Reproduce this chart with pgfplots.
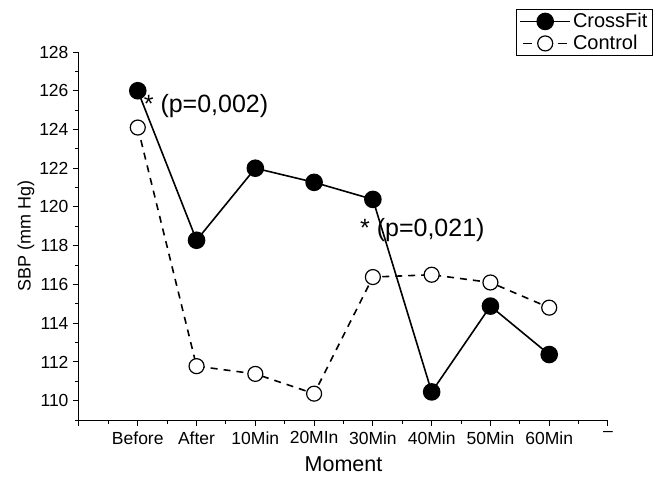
\documentclass[border=0pt]{standalone}
\usepackage{pgfplots}
\pgfplotsset{compat=1.18}
\usepackage{fontspec}
\setmainfont{Liberation Sans}
\begin{document}
\begin{tikzpicture}
\path[use as bounding box] (-79pt,-57pt) rectangle (575pt,420pt);
\begin{axis}[
  at={(0pt,0pt)}, anchor=south west,
  scale only axis, width=529pt, height=368pt,
  xmin=0, xmax=9, ymin=109, ymax=128,
  axis x line*=bottom, axis y line*=left,
  axis line style={line width=1pt, -},
  tick align=outside,
  xtick={0,1,2,3,4,5,6,7,8,9},
  xticklabels={{},Before,After,10Min,20MIn,30Min,40Min,50Min,60Min,--},
  minor xtick={0.5,1.5,2.5,3.5,4.5,5.5,6.5,7.5,8.5},
  ytick={110,112,...,128},
  minor ytick={109,111,...,127},
  major tick length=6pt, minor tick length=4pt,
  tick style={line width=1pt, black},
  /pgf/number format/assume math mode=true,
  ticklabel style={font=\fontsize{17.5}{20}\selectfont},
  yticklabel style={xshift=-1pt},
  xticklabel style={yshift=-2pt},
  xlabel={Moment}, ylabel={SBP (mm Hg)},
  xlabel style={font=\fontsize{21.5}{24}\selectfont, yshift=-5pt},
  ylabel style={font=\fontsize{18}{20}\selectfont, yshift=-2pt},
  legend style={at={(rel axis cs:1.085,1.117)}, anchor=north east, draw=black, line width=1pt,
    font=\fontsize{20}{22}\selectfont, inner xsep=3pt, inner ysep=2pt, row sep=2pt,
    legend cell align=left},
  clip=false,
]
\addplot[black, line width=1.6pt, mark=*, mark size=8pt, mark options={solid, fill=black},
  legend image code/.code={\draw[solid, line width=1.6pt] (0pt,0pt)--(50pt,0pt); \fill[black] (25pt,0pt) circle (8pt);}]
  coordinates {(1,126.0)(2,118.28)(3,122.0)(4,121.27)(5,120.39)(6,110.45)(7,114.88)(8,112.38)};
\addlegendentry{CrossFit}
\addplot[black, line width=1.6pt, dash pattern=on 7pt off 6pt, mark=*, mark size=7.5pt, mark options={solid, fill=white, draw=black, line width=1.2pt},
  legend image code/.code={\draw[solid, line width=1.6pt] (3pt,0pt)--(12pt,0pt) (38pt,0pt)--(47pt,0pt); \draw[solid, line width=1.2pt, fill=white] (25pt,0pt) circle (7.5pt);}]
  coordinates {(1,124.1)(2,111.78)(3,111.38)(4,110.36)(5,116.38)(6,116.5)(7,116.1)(8,114.8)};
\addlegendentry{Control}
\node[anchor=west, inner sep=0pt, font=\fontsize{25}{27}\selectfont] at (axis cs:1.1,125.2) {* (p=0,002)};
\node[anchor=west, inner sep=0pt, font=\fontsize{25}{27}\selectfont] at (axis cs:4.78,118.8) {* (p=0,021)};
\end{axis}
\end{tikzpicture}
\end{document}
